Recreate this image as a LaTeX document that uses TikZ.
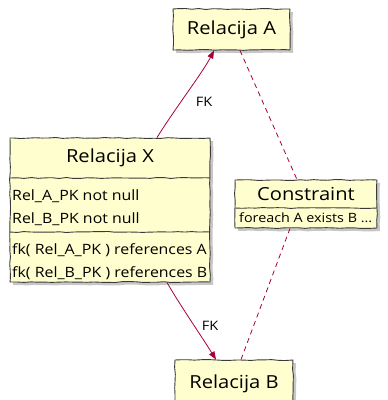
\documentclass[tikz,border=0pt]{standalone}
\usepackage{fontspec}
\setmainfont[FakeStretch=1.12]{Open Sans}
\usetikzlibrary{calc,shadows,arrows.meta,decorations.pathmorphing}
\definecolor{boxfill}{HTML}{FEFECE}
\definecolor{boxline}{HTML}{3A3A3A}
\definecolor{relline}{HTML}{A80036}
\tikzset{
  wobble/.style={decorate,decoration={random steps,segment length=7pt,amplitude=0.5pt}},
  umlbox/.style={draw=boxline,line width=0.9pt,fill=boxfill,rectangle,inner sep=0pt,wobble,
    drop shadow={shadow xshift=3pt,shadow yshift=-3pt,fill=black,opacity=0.22}},
  titletext/.style={font=\fontsize{18}{21}\selectfont,inner sep=0pt,anchor=center},
  membertext/.style={font=\fontsize{14.2}{17}\selectfont,inner sep=0pt,anchor=west},
  smallmember/.style={font=\fontsize{12.8}{16}\selectfont,inner sep=0pt,anchor=west},
  divider/.style={draw=boxline,line width=0.9pt,wobble},
  fklink/.style={draw=relline,line width=0.8pt,-{Triangle[length=8pt,width=6pt]}},
  constraintlink/.style={draw=relline,line width=0.8pt,dash pattern=on 5pt off 4pt},
  linklabel/.style={font=\fontsize{13}{15}\selectfont,inner sep=0pt},
}
\begin{document}
\begin{tikzpicture}[x=1pt,y=-1pt]
\pgfmathsetseed{7}
\useasboundingbox (0,0) rectangle (388,400);
\fill[white] (0,0) rectangle (388,400);
\clip (0,0) rectangle (388,400);

% Relacija A
\node[umlbox,minimum width=117pt,minimum height=41pt] (A) at (231.5,29.5) {};
\node[titletext] (Atitle) at (231.5,30) {Relacija A};

% Relacija X with two compartments
\node[umlbox,minimum width=200pt,minimum height=144pt] (X) at (110,210) {};
\draw[divider] (10,178) -- (210,178);
\draw[divider] (10,232) -- (210,232);
\node[titletext] (Xtitle) at (110,158) {Relacija X};
\node[membertext] (x1) at (12,196) {Rel\_A\_PK not null};
\node[membertext] (x2) at (12,219) {Rel\_B\_PK not null};
\node[membertext] (x3) at (12,250) {fk( Rel\_A\_PK ) references A};
\node[membertext] (x4) at (12,273) {fk( Rel\_B\_PK ) references B};

% Constraint
\node[umlbox,minimum width=142pt,minimum height=48pt] (C) at (306,204) {};
\draw[divider] (235,208) -- (377,208);
\node[titletext] (Ctitle) at (306,194) {Constraint};
\node[smallmember] (c1) at (239,218) {foreach A exists B ...};

% Relacija B
\node[umlbox,minimum width=118pt,minimum height=44pt] (B) at (234,382) {};
\node[titletext] (Btitle) at (234,384) {Relacija B};

% connection points
\coordinate (xa) at ([xshift=47pt]X.north);
\coordinate (ax) at ([xshift=-17.5pt]A.south);
\coordinate (xb) at ([xshift=57pt]X.south);
\coordinate (bx) at ([xshift=-18pt]B.north);
\coordinate (ac) at ([xshift=8.5pt]A.south);
\coordinate (ca) at ([xshift=-9pt]C.north);
\coordinate (cb) at ([xshift=-16pt]C.south);
\coordinate (bc) at ([xshift=7pt]B.north);

\draw[fklink] (xa) .. controls (174,110) and (203,72) .. (ax);
\draw[fklink] (xb) .. controls (178,302) and (200,334) .. (bx);
\draw[constraintlink] (ac) -- (ca);
\draw[constraintlink] (cb) -- (bc);

\node[linklabel] (fk1) at (204,102) {FK};
\node[linklabel] (fk2) at (210,326) {FK};
\end{tikzpicture}
\end{document}
